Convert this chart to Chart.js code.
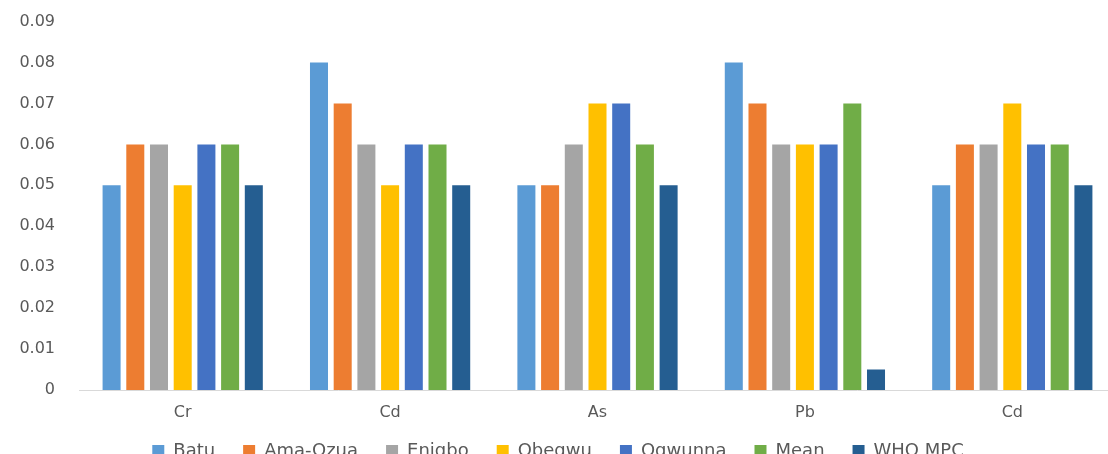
<!DOCTYPE html>
<html>
<head>
<meta charset="utf-8">
<script src="https://cdn.jsdelivr.net/npm/chart.js@4/dist/chart.umd.min.js"></script>
<style>
html,body{margin:0;padding:0;background:#fff;overflow:hidden;}
#wrap{width:1108px;height:454px;position:relative;overflow:hidden;}
canvas{display:block;margin-top:-12px;}
</style>
</head>
<body>
<div id="wrap"><canvas id="c" width="1116" height="482"></canvas></div>
<script>
const categories = ["Cr", "Cd", "As", "Pb", "Cd"];
const seriesNames = ["Batu", "Ama-Ozua", "Enigbo", "Obegwu", "Ogwunna", "Mean", "WHO MPC"];
const batu    = [0.05, 0.08, 0.05, 0.08, 0.05];
const amaOzua = [0.06, 0.07, 0.05, 0.07, 0.06];
const enigbo  = [0.06, 0.06, 0.06, 0.06, 0.06];
const obegwu  = [0.05, 0.05, 0.07, 0.06, 0.07];
const ogwunna = [0.06, 0.06, 0.07, 0.06, 0.06];
const mean    = [0.06, 0.06, 0.06, 0.07, 0.06];
const whoMpc  = [0.05, 0.05, 0.05, 0.005, 0.05];
const yTicks  = [0, 0.01, 0.02, 0.03, 0.04, 0.05, 0.06, 0.07, 0.08, 0.09];
const colors  = ["#5B9BD5", "#ED7D31", "#A5A5A5", "#FFC000", "#4472C4", "#70AD47", "#255E91"];
const seriesData = [batu, amaOzua, enigbo, obegwu, ogwunna, mean, whoMpc];

const datasets = seriesNames.map((n, i) => ({
  label: n,
  data: seriesData[i],
  backgroundColor: colors[i],
  borderWidth: 0,
  categoryPercentage: 0.80,
  barPercentage: 0.76
}));

const FONT = "'DejaVu Sans', sans-serif";

const labelRoom = {
  id: 'labelRoom',
  afterLayout(chart) { chart.scales.x.bottom += 14; }
};

new Chart(document.getElementById('c'), {
  type: 'bar',
  data: { labels: categories, datasets },
  plugins: [labelRoom],
  options: {
    responsive: false,
    animation: false,
    layout: { padding: { top: 4, left: 0, right: 0, bottom: 0 } },
    plugins: {
      tooltip: { enabled: false },
      legend: {
        position: 'bottom',
        labels: {
          boxWidth: 12, boxHeight: 12, padding: 28,
          color: '#595959',
          font: { family: FONT, size: 18 }
        }
      }
    },
    scales: {
      x: {
        grid: { display: false, drawTicks: false },
        border: { display: true, color: '#D9D9D9', width: 1 },
        ticks: {
          color: '#595959', padding: 13,
          font: { family: FONT, size: 16 }
        },
        afterFit: (axis) => { axis.height = 24; }
      },
      y: {
        min: 0, max: 0.09,
        afterBuildTicks: (axis) => { axis.ticks = yTicks.map(v => ({ value: v })); },
        grid: { display: false, drawTicks: false },
        border: { display: false },
        ticks: {
          color: '#595959', padding: 24,
          font: { family: FONT, size: 16 },
          callback: (v) => (v === 0 ? '0' : Number(v).toFixed(2))
        },
        afterFit: (axis) => { axis.width = 79; }
      }
    }
  }
});
</script>
</body>
</html>
